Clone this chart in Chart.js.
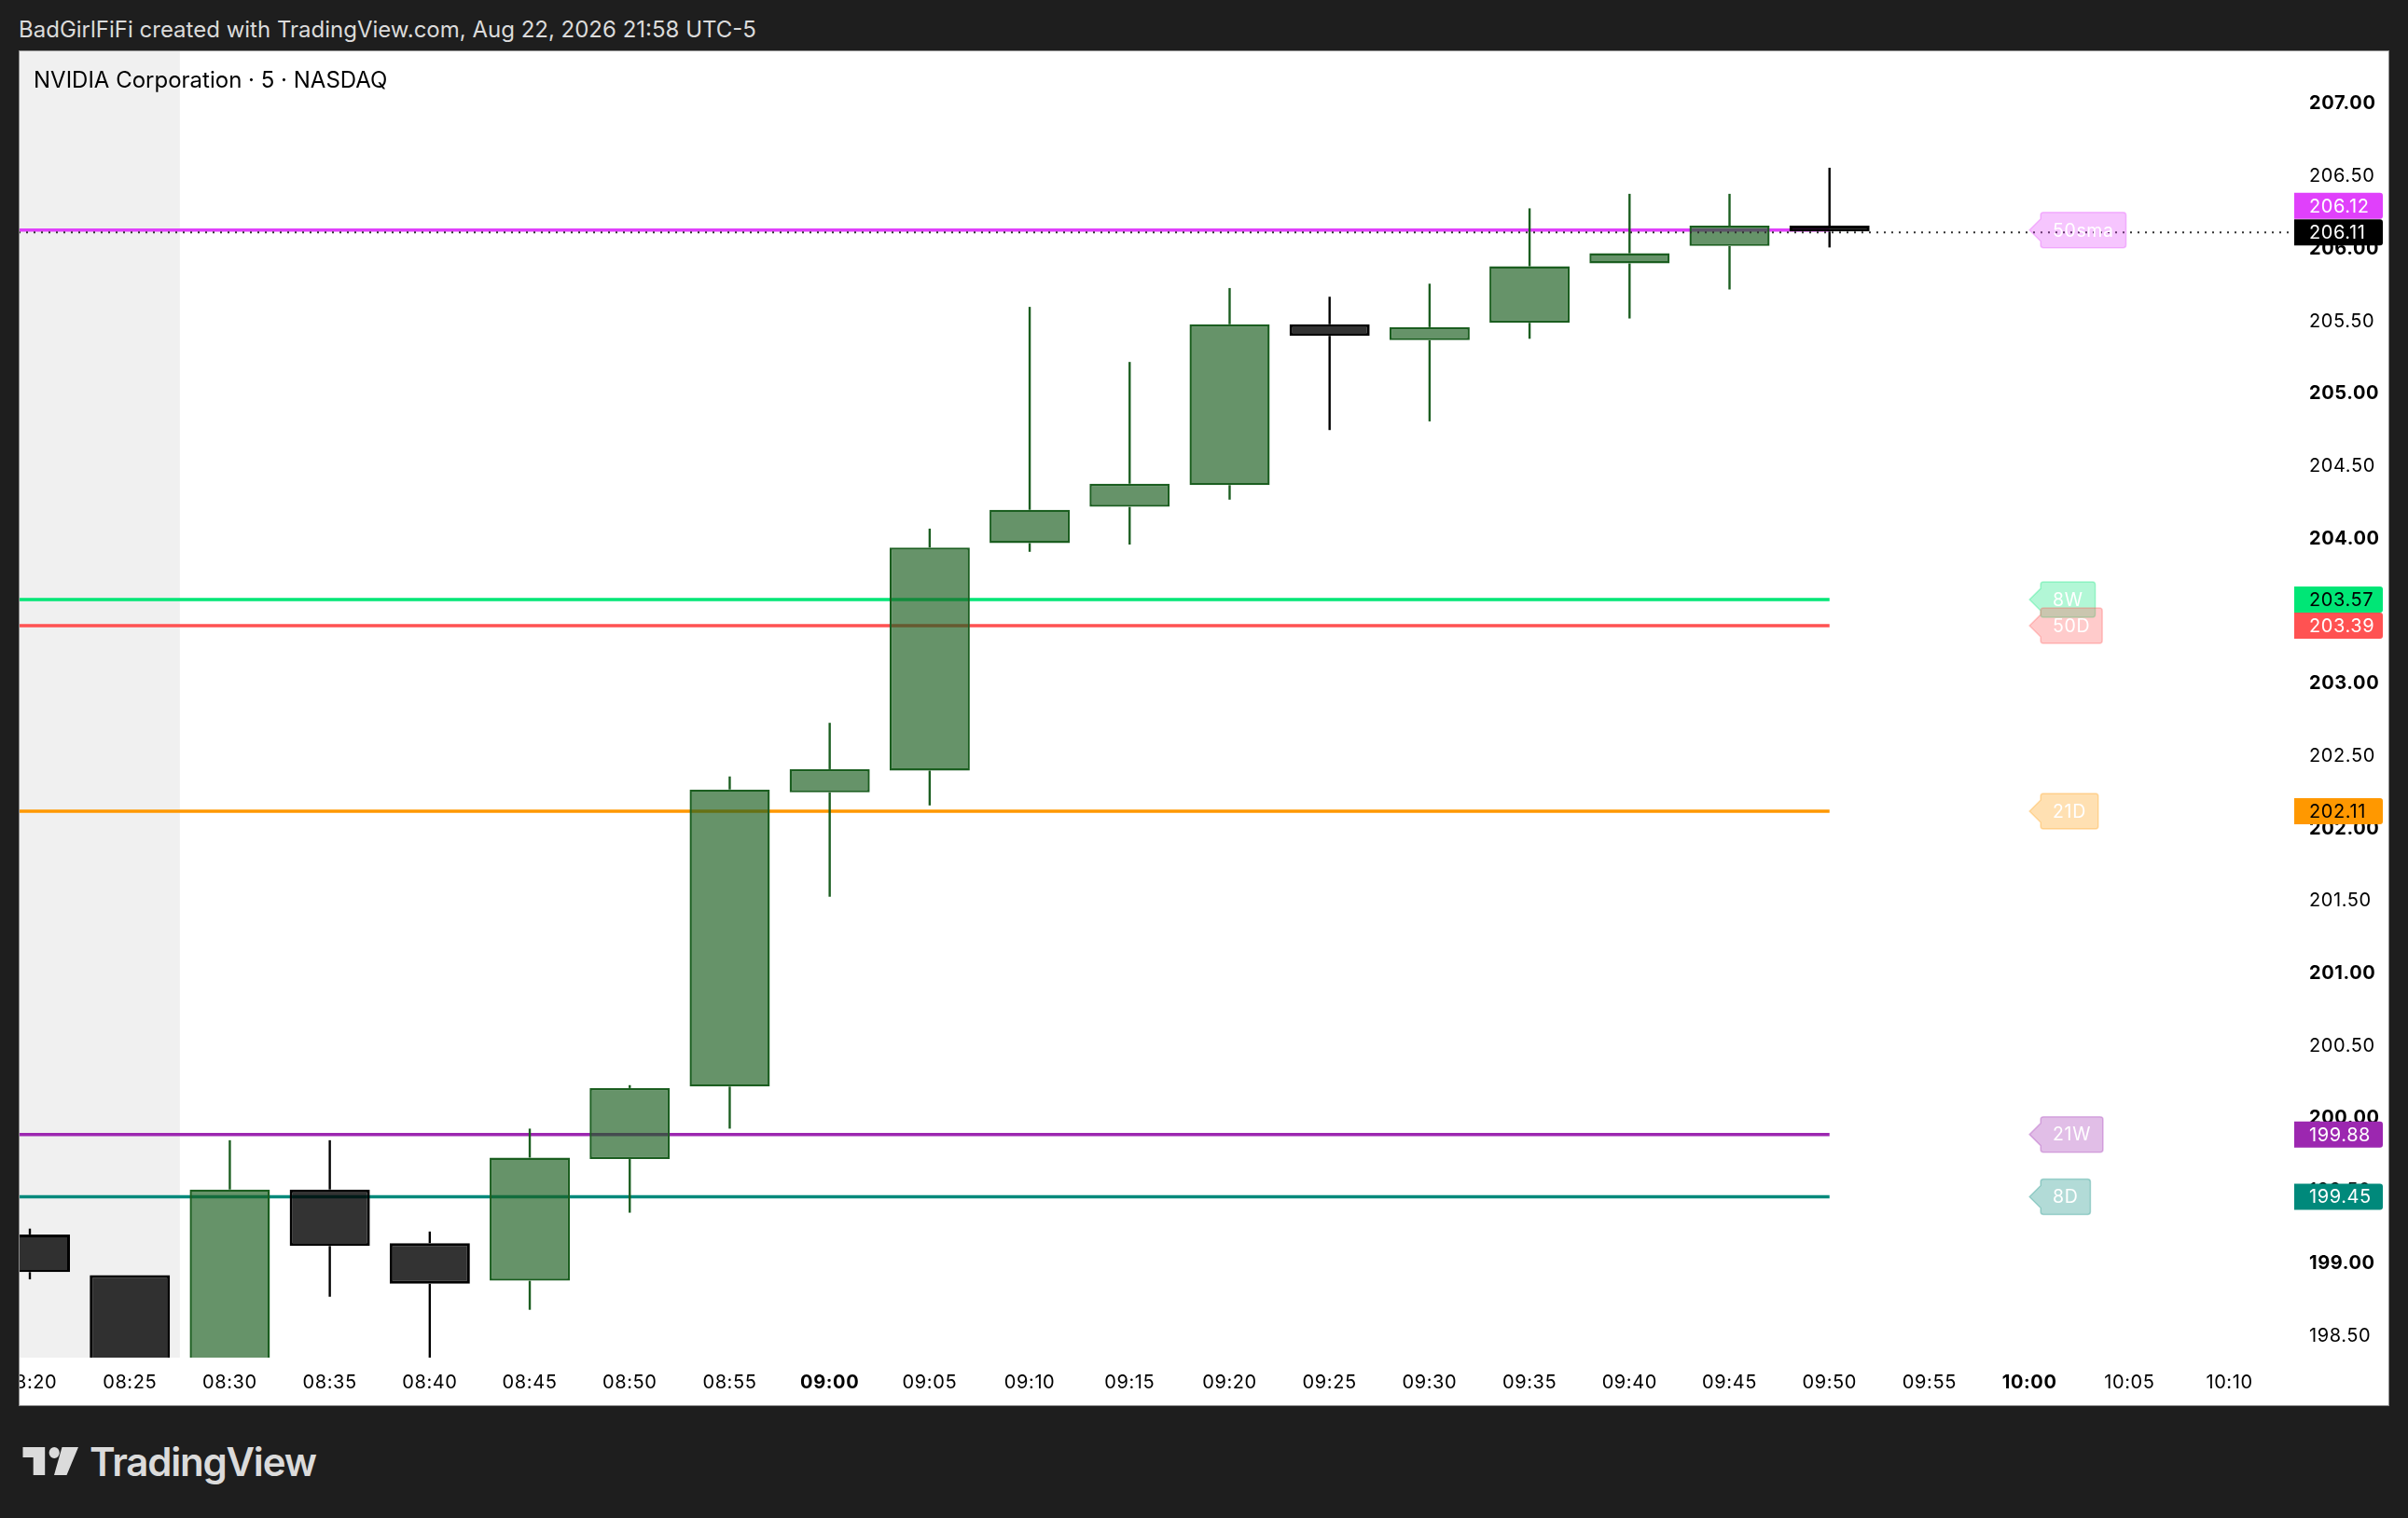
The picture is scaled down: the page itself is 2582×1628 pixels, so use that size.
<!DOCTYPE html>
<html>
<head>
<meta charset="utf-8">
<title>NVIDIA Corporation 5m</title>
<script src="https://cdn.jsdelivr.net/npm/chart.js@4/dist/chart.umd.min.js"></script>
<style>
  html, body { margin: 0; padding: 0; background: #1e1e1e; width: 2582px; height: 1628px; overflow: hidden; font-family: Inter, sans-serif; }
  #credit { position: absolute; left: 20px; top: 19px; font-size: 24px; line-height: 26px; color: #dbdbdb; white-space: nowrap; }
  #frame { position: absolute; left: 20px; top: 54px; width: 2542px; height: 1454px; background: #fff; }
  #frame canvas { display: block; }
  #edge { position: absolute; left: 0; top: 0; right: 0; bottom: 0; box-shadow: inset 0 0 0 1px #8c8c8c; }
  #symbol { position: absolute; left: 36px; top: 72px; font-size: 24px; line-height: 27px; color: #000; white-space: nowrap; }
  #logo { position: absolute; left: 24px; top: 1552px; }
  #brand { position: absolute; left: 96px; top: 1543px; font-size: 42px; line-height: 50px; font-weight: 600; color: #dbdbdb; letter-spacing: -1.2px; white-space: nowrap; }
</style>
</head>
<body>
<div id="credit">BadGirlFiFi created with TradingView.com, Aug 22, 2026 21:58 UTC-5</div>
<div id="frame"><canvas id="candles" width="2541" height="1453"></canvas><div id="edge"></div></div>
<div id="symbol">NVIDIA Corporation · 5 · NASDAQ</div>
<svg id="logo" width="60" height="30" viewBox="0 0 60 30"><path fill="#dbdbdb" d="M0.5 0H24.2V30H11.7V11H0.5ZM42.5 0H60L47.5 30H34ZM39.8 6A5.6 6 0 1 1 28.6 6A5.6 6 0 1 1 39.8 6Z"/></svg>
<div id="brand">TradingView</div>

<script>
// time axis, one slot every 5 minutes
const timeLabels = ['08:20', '08:25', '08:30', '08:35', '08:40', '08:45', '08:50', '08:55', '09:00', '09:05', '09:10', '09:15',
  '09:20', '09:25', '09:30', '09:35', '09:40', '09:45', '09:50', '09:55', '10:00', '10:05', '10:10'];

// candles, the 08:25/08:30/08:40 ends run below the visible range
const opens = [199.19, 198.91, 198.00, 199.50, 199.13, 198.87, 199.71, 200.21, 202.24, 202.39, 203.96, 204.21, 204.36, 205.47, 205.36, 205.48, 205.89, 206.01, 206.15];
const highs = [199.23, 198.91, 199.84, 199.84, 199.21, 199.92, 200.22, 202.35, 202.72, 204.06, 205.59, 205.21, 205.72, 205.66, 205.75, 206.27, 206.37, 206.37, 206.55];
const lows = [198.88, 197.90, 198.00, 198.76, 198.30, 198.67, 199.34, 199.92, 201.52, 202.15, 203.90, 203.95, 204.26, 204.74, 204.80, 205.37, 205.51, 205.71, 206.00];
const closes = [198.93, 198.00, 199.50, 199.11, 198.85, 199.72, 200.20, 202.26, 202.40, 203.93, 204.19, 204.37, 205.47, 205.39, 205.45, 205.87, 205.96, 206.15, 206.11];

// moving average levels
const levelNames = ['50sma', '8W', '50D', '21D', '21W', '8D'];
const levelValues = [206.12, 203.57, 203.39, 202.11, 199.88, 199.45];
const levelColors = ['#e040fb', '#00e676', '#ff5252', '#ff9800', '#9c27b0', '#00897b'];
const levelTextColors = ['#fff', '#000', '#fff', '#000', '#fff', '#fff'];
const levelTagShift = [-26, 0, 0, 0, 0, 0]; // 206.12 tag gets pushed up by the last price tag

const lastPrice = 206.104; // shown rounded as 206.11 on the tag
const lastPriceLabel = '206.11';
const sessionEnd = 1.5; // pre market shading stops between 08:25 and 08:30
const xMin = -0.112, xMax = 22.648, yMin = 198.34, yMax = 207.36;
const lastBar = closes.length - 1;
const flagSlot = 20; // flags hang at the 10:00 slot

const UP = '#1b5e20', UP_FILL = 'rgba(27,94,32,0.67)', DOWN = '#000', DOWN_FILL = 'rgba(0,0,0,0.8)';
const isUp = opens.map((o, i) => closes[i] >= o);
const edgeColors = isUp.map(up => up ? UP : DOWN);
const fillColors = isUp.map(up => up ? UP_FILL : DOWN_FILL);
const edgeWidths = isUp.map(up => up ? 2.4 : 3);

const levelDatasets = levelValues.map((v, i) => ({
  type: 'line',
  data: [{ x: xMin, y: v }, { x: lastBar, y: v }],
  borderColor: levelColors[i],
  borderWidth: 3.5,
  pointRadius: 0,
  order: 5
}));

const sessionShade = {
  id: 'sessionShade',
  beforeDraw(chart) {
    chart.ctx.letterSpacing = '0.6px'; // axis font runs a bit wider than Inter
  },
  beforeDatasetsDraw(chart) {
    const { ctx, chartArea, scales } = chart;
    ctx.save();
    ctx.fillStyle = '#f0f0f0';
    ctx.fillRect(chartArea.left, chartArea.top, scales.x.getPixelForValue(sessionEnd) - chartArea.left, chartArea.height);
    ctx.restore();
  }
};

function alpha(hex, a) {
  const n = parseInt(hex.slice(1), 16);
  return `rgba(${n >> 16},${(n >> 8) & 255},${n & 255},${a})`;
}

// price tags on the axis and the little flags next to them
const levelTags = {
  id: 'levelTags',
  afterDraw(chart) {
    const { ctx, chartArea, scales } = chart;
    ctx.save();
    ctx.textBaseline = 'middle';
    const tag = (value, text, shift, bg, fg) => {
      const y = scales.y.getPixelForValue(value) + shift;
      ctx.fillStyle = bg;
      ctx.beginPath();
      ctx.roundRect(chartArea.right, y - 14, 95, 28, [0, 3, 3, 0]);
      ctx.fill();
      ctx.fillStyle = fg;
      ctx.font = '20px Inter';
      ctx.textAlign = 'left';
      ctx.fillText(text, chartArea.right + 16, y + 1);
    };
    levelValues.forEach((v, i) => {
      const y = scales.y.getPixelForValue(v);
      const tip = scales.x.getPixelForValue(flagSlot);
      ctx.font = '19.5px Inter';
      const w = ctx.measureText(levelNames[i]).width + 26;
      ctx.beginPath();
      ctx.moveTo(tip, y);
      ctx.lineTo(tip + 12, y - 12);
      ctx.lineTo(tip + 12, y - 16);
      ctx.arcTo(tip + 12, y - 19, tip + 15, y - 19, 3);
      ctx.arcTo(tip + 12 + w, y - 19, tip + 12 + w, y - 16, 3);
      ctx.arcTo(tip + 12 + w, y + 19, tip + 9 + w, y + 19, 3);
      ctx.arcTo(tip + 12, y + 19, tip + 12, y + 16, 3);
      ctx.lineTo(tip + 12, y + 12);
      ctx.closePath();
      ctx.fillStyle = alpha(levelColors[i], 0.3);
      ctx.fill();
      ctx.strokeStyle = alpha(levelColors[i], 0.3);
      ctx.lineWidth = 1.5;
      ctx.stroke();
      ctx.fillStyle = '#fff';
      ctx.textAlign = 'center';
      ctx.fillText(levelNames[i], tip + 12 + w / 2, y + 1);
    });
    levelValues.forEach((v, i) => tag(v, v.toFixed(2), levelTagShift[i], levelColors[i], levelTextColors[i]));
    tag(lastPrice, lastPriceLabel, 0, '#000', '#fff');
    ctx.restore();
  }
};

new Chart(document.getElementById('candles').getContext('2d'), {
  type: 'bar',
  data: {
    datasets: [
      ...levelDatasets,
      {
        // upper wicks
        data: opens.map((o, i) => ({ x: i, y: [Math.max(o, closes[i]), highs[i]] })),
        backgroundColor: edgeColors,
        barThickness: 2.4,
        grouped: false,
        inflateAmount: 0,
        order: 3
      },
      {
        // lower wicks
        data: opens.map((o, i) => ({ x: i, y: [lows[i], Math.min(o, closes[i])] })),
        backgroundColor: edgeColors,
        barThickness: 2.4,
        grouped: false,
        inflateAmount: 0,
        order: 3
      },
      {
        // bodies
        data: opens.map((o, i) => ({ x: i, y: [o, closes[i]] })),
        backgroundColor: fillColors,
        borderColor: edgeColors,
        borderWidth: edgeWidths,
        borderSkipped: false,
        barThickness: 86,
        grouped: false,
        inflateAmount: 0,
        order: 2
      },
      {
        type: 'line',
        data: [{ x: xMin, y: lastPrice }, { x: xMax, y: lastPrice }],
        borderColor: '#333',
        borderWidth: 2,
        borderDash: [2, 6],
        pointRadius: 0,
        order: 1
      }
    ]
  },
  options: {
    responsive: false,
    animation: false,
    events: [],
    layout: { padding: 0 },
    plugins: { legend: { display: false }, tooltip: { enabled: false } },
    scales: {
      x: {
        type: 'linear',
        offset: false, // bar charts turn this on by default
        min: xMin,
        max: xMax,
        afterFit: scale => {
          scale.height = 51;
          scale.paddingLeft = 0;  // 08:20 gets cut at the frame edge like the original
          scale.paddingRight = 0;
        },
        grid: { display: false, drawTicks: false },
        border: { display: false },
        ticks: {
          stepSize: 1,
          includeBounds: false,
          autoSkip: false,
          maxRotation: 0,
          padding: 15,
          color: '#000',
          font: ctx => {
            const t = ctx.tick ? timeLabels[ctx.tick.value] : '';
            return { family: 'Inter', size: 20, weight: t && t.endsWith(':00') ? '700' : '400' };
          },
          callback: value => timeLabels[value] ?? ''
        }
      },
      y: {
        type: 'linear',
        position: 'right',
        min: yMin,
        max: yMax,
        afterFit: scale => {
          scale.width = 101;
          scale.paddingTop = 0;
          scale.paddingBottom = 0;
        },
        grid: { display: false, drawTicks: false },
        border: { display: false },
        ticks: {
          stepSize: 0.5,
          includeBounds: false,
          autoSkip: false,
          padding: 16,
          labelOffset: 1.5,
          color: '#000',
          font: ctx => ({ family: 'Inter', size: 20, weight: ctx.tick && Number.isInteger(ctx.tick.value) ? '700' : '400' }),
          callback: value => value.toFixed(2)
        }
      }
    }
  },
  plugins: [sessionShade, levelTags]
});
</script>
</body>
</html>
